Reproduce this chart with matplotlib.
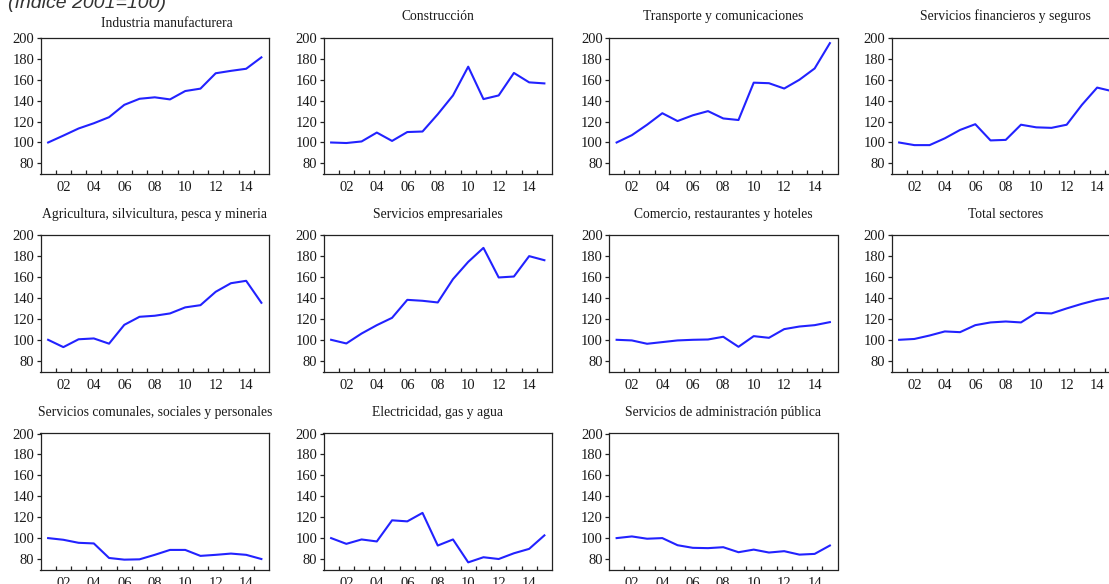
import matplotlib
matplotlib.use('Agg')
import matplotlib.pyplot as plt

W, H = 1109, 584

years = list(range(2001, 2016))
year_labels = ['02', '04', '06', '08', '10', '12', '14']
label_years = [2002, 2004, 2006, 2008, 2010, 2012, 2014]
y_ticks = [80, 100, 120, 140, 160, 180, 200]

titles = [
    'Industria manufacturera',
    'Construcción',
    'Transporte y comunicaciones',
    'Servicios financieros y seguros',
    'Agricultura, silvicultura, pesca y mineria',
    'Servicios empresariales',
    'Comercio, restaurantes y hoteles',
    'Total sectores',
    'Servicios comunales, sociales y personales',
    'Electricidad, gas y agua',
    'Servicios de administración pública',
]

industria = [100, 106.6, 113.4, 118.4, 124.2, 136, 141.8, 143.2, 141.2, 149.2, 151.5, 166.2, 168.5, 170.5, 181.4]
construccion = [100, 99.5, 101, 109.5, 101.5, 110, 110.5, 127, 145, 172.5, 141.5, 145, 166.5, 157.5, 156.5]
transporte = [100, 107, 117, 128, 120.5, 126, 130, 123, 121.5, 157.2, 156.7, 151.6, 160, 170.8, 195]
financieros = [100, 97.5, 97.5, 104, 112, 117.5, 102, 102.5, 117, 114.5, 114, 117, 136, 152.5, 149]
agricultura = [100, 93, 100.5, 101.3, 96.3, 114.3, 122, 123, 125.2, 131, 133.1, 145.9, 154.1, 156.4, 135.4]
empresariales = [100, 96.5, 106, 114, 121, 138.2, 137.3, 135.7, 158, 174.5, 187.9, 159.6, 160.5, 180, 176.1]
comercio = [100, 99.4, 96.2, 97.8, 99.4, 100, 100.3, 102.9, 93.3, 103.5, 101.9, 110.2, 112.7, 114, 116.9]
total = [100, 100.8, 104.1, 108, 107.3, 114, 116.6, 117.5, 116.6, 125.8, 125.2, 130, 134.4, 138.2, 140.5]
comunales = [100, 98.4, 95.5, 94.9, 81, 79.4, 79.7, 84, 88.7, 88.7, 83, 84, 85.2, 84, 80]
electricidad = [100, 94.5, 98.7, 96.8, 117, 116, 124.1, 92.9, 98.7, 76.8, 81.7, 80, 85.5, 89.7, 102.6]
administracion = [100, 101.6, 99.4, 100, 93.2, 90.7, 90.4, 91.3, 86.5, 89, 86.2, 87.5, 84.2, 84.9, 92.9]

series = [industria, construccion, transporte, financieros,
          agricultura, empresariales, comercio, total,
          comunales, electricidad, administracion]

# layout (pixels)
col_left = [40.5, 323.5, 609, 891.5]
row_top = [37.7, 235, 433.3]
ax_w, ax_h = 228.5, 136.7

serif = ['Liberation Serif', 'DejaVu Serif']
text_color = '#1a1a1a'
line_color = '#2222ff'

fig = plt.figure(figsize=(W / 100, H / 100), dpi=100)
fig.patch.set_facecolor('white')

fig.text(8 / W, 1 - 8.5 / H, '(índice 2001=100)', fontsize=14, style='italic',
         family=['Liberation Sans', 'DejaVu Sans'], color='#333333',
         ha='left', va='baseline')

for i, (title, vals) in enumerate(zip(titles, series)):
    r, c = divmod(i, 4)
    left = col_left[c] / W
    bottom = 1 - (row_top[r] + ax_h) / H
    ax = fig.add_axes([left, bottom, ax_w / W, ax_h / H])
    ax.plot(years, vals, color=line_color, lw=1.5, solid_joinstyle='round')
    ax.set_xlim(2000.5, 2015.5)
    ax.set_ylim(69.5, 200.2)
    ax.set_yticks(y_ticks)
    ax.set_yticklabels([str(v) for v in y_ticks], family=serif, fontsize=10.5, color=text_color)
    ax.set_xticks(label_years)
    ax.set_xticklabels(year_labels, family=serif, fontsize=10.5, color=text_color)
    ax.set_xticks([y + 0.5 for y in years[:-1]], minor=True)
    ax.tick_params(axis='x', which='major', length=0, pad=5)
    ax.tick_params(axis='x', which='minor', direction='in', length=3.2, width=0.9, color='#222222')
    ax.tick_params(axis='y', which='major', direction='out', length=3, width=0.9, pad=1.5, color='#222222')
    for s in ax.spines.values():
        s.set_linewidth(0.9)
        s.set_color('#222222')
    if i == 0:
        ax.set_title(title, family=serif, fontsize=9.8, color=text_color, pad=8, x=0.553)
    else:
        ax.set_title(title, family=serif, fontsize=9.8, color=text_color, pad=12.5)

fig.savefig('out.png', dpi=100, facecolor='white')
